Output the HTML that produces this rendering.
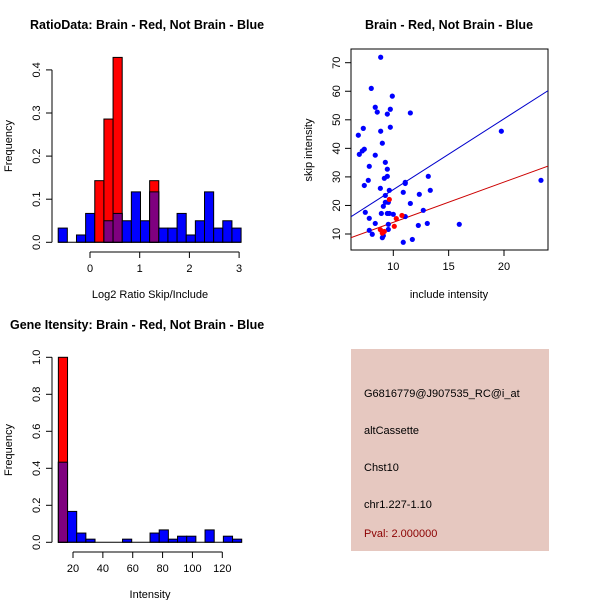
<!DOCTYPE html>
<html><head><meta charset="utf-8"><style>
body{margin:0;background:#fff}
svg{display:block}
text{font-family:"Liberation Sans",sans-serif;font-size:11px;fill:#000}
.t{font-weight:bold;font-size:12.5px}
</style></head><body>
<svg id="c" width="600" height="600" xmlns="http://www.w3.org/2000/svg"></svg>
<script>
// Panel 1: ratio histogram
const ratioBinStart = -0.64, ratioBinWidth = 0.184;
const ratioBlue = [0.033,0,0.017,0.067,0,0.05,0.067,0.05,0.117,0.05,0.117,0.033,0.033,0.067,0.017,0.05,0.117,0.033,0.05,0.033];
const ratioRed  = [0,0,0,0,0.143,0.286,0.429,0,0,0,0.143,0,0,0,0,0,0,0,0,0];
const ratioXTicks = [0,1,2,3];
const ratioYTicks = [0,0.1,0.2,0.3,0.4];
// Panel 2: scatter
const blueX = [8.86,8.01,9.91,8.37,9.73,8.55,9.46,11.54,9.73,7.29,8.86,19.76,6.84,9.01,7.38,7.20,6.93,8.37,7.83,9.28,9.46,9.46,9.19,13.16,7.74,23.34,7.38,11.08,11.08,8.83,9.64,13.34,10.90,9.28,12.35,9.10,11.54,9.28,9.55,7.47,8.92,9.46,10.00,9.64,12.71,11.08,7.83,8.37,9.55,12.26,13.07,15.96,9.55,7.83,8.10,9.10,9.01,10.90,11.72];
const blueY = [71.9,61.0,58.3,54.4,53.7,52.7,52.0,52.4,47.4,47.0,46.0,46.0,44.6,41.8,39.7,39.1,37.9,37.6,33.7,35.1,32.7,30.2,29.5,30.2,28.8,28.8,27.0,28.1,27.7,26.0,25.3,25.3,24.6,23.5,23.9,19.7,20.7,21.1,21.1,17.6,17.2,17.2,16.9,17.2,18.3,16.1,15.5,13.7,13.4,13.0,13.7,13.4,11.6,11.3,9.9,9.4,8.7,7.1,8.1];
const redX = [9.64,10.78,10.27,10.09,8.83,9.19,9.01];
const redY = [22.1,16.5,15.4,12.7,11.5,10.9,10.3];
const blueFit = [0.74, 2.48]; // intercept, slope
const redFit = [-0.01, 1.41];
const scXTicks = [10,15,20];
const scYTicks = [10,20,30,40,50,60,70];
// Panel 3: intensity histogram
const intBinStart = 10.2, intBinWidth = 6.14;
const intBlue = [0.433,0.167,0.05,0.017,0,0,0,0.017,0,0,0.05,0.067,0.017,0.033,0.033,0,0.067,0,0.033,0.017];
const intRed  = [1.0,0,0,0,0,0,0,0,0,0,0,0,0,0,0,0,0,0,0,0];
const intXTicks = [20,40,60,80,100,120];
const intYTicks = [0,0.2,0.4,0.6,0.8,1.0];

const svg = document.getElementById('c');
const NS = 'http://www.w3.org/2000/svg';
function mk(tag, attrs, parent){const e=document.createElementNS(NS,tag);for(const k in attrs)e.setAttribute(k,attrs[k]);(parent||svg).appendChild(e);return e;}
function txt(s,x,y,opt,parent){const e=mk('text',Object.assign({x:x,y:y},opt||{}),parent);e.textContent=s;return e;}

function hist(g, sx, sy, start, w, blue, red){
  for(let i=0;i<blue.length;i++){
    const x0=sx(start+i*w), x1=sx(start+(i+1)*w);
    const b=blue[i], r=red[i];
    if(b>0){const e=mk('rect',{x:x0,y:sy(b),width:x1-x0,height:sy(0)-sy(b),fill:'#0000ff',stroke:'#000','stroke-width':1},g);
      
      }
    if(r>0){const e=mk('rect',{x:x0,y:sy(r),width:x1-x0,height:sy(0)-sy(r),fill:'#ff0000',stroke:'#000','stroke-width':1},g);
      
      }
    const m=Math.min(b,r);
    if(m>0){const e=mk('rect',{x:x0,y:sy(m),width:x1-x0,height:sy(0)-sy(m),fill:'#7f007f',stroke:'#000','stroke-width':1},g);
      
      }
  }
}
function yAxis(g, sy, ticks, x, y0, y1, labX, fmt){
  mk('line',{x1:x,y1:y0,x2:x,y2:y1,stroke:'#000'},g);
  ticks.forEach(t=>{const y=sy(t);mk('line',{x1:x-6,y1:y,x2:x,y2:y,stroke:'#000'},g);
    txt(fmt(t),labX,y,{'text-anchor':'middle',transform:`rotate(-90 ${labX} ${y})`},g);});
}
function xAxis(g, sx, ticks, y, x0, x1, labY){
  mk('line',{x1:x0,y1:y,x2:x1,y2:y,stroke:'#000'},g);
  ticks.forEach(t=>{const x=sx(t);mk('line',{x1:x,y1:y,x2:x,y2:y+6,stroke:'#000'},g);
    txt(String(t),x,labY,{'text-anchor':'middle'},g);});
}

// Panel 1
{
  const g=mk('g',{});
  
  
  const sx=v=>90+v*49.7, sy=v=>242.3-v*431;
  hist(g,sx,sy,ratioBinStart,ratioBinWidth,ratioBlue,ratioRed);
  mk('line',{x1:sx(ratioBinStart),y1:242.3,x2:sx(ratioBinStart+20*ratioBinWidth),y2:242.3,stroke:'#000'},g);
  yAxis(g,sy,ratioYTicks,52,sy(0),sy(0.4),40,t=>t.toFixed(1));
  xAxis(g,sx,ratioXTicks,252,sx(0),sx(3),272);
  txt('RatioData: Brain - Red, Not Brain - Blue',30,29,{class:'t'},g);
  txt('Log2 Ratio Skip/Include',150,298,{'text-anchor':'middle'},g);
  txt('Frequency',12,146,{'text-anchor':'middle',transform:'rotate(-90 12 146)'},g);
}
// Panel 2
{
  const g=mk('g',{});
  
  
  const sx=v=>393.3+(v-10)*11.07, sy=v=>234-(v-10)*2.855;
  const xmin=6.18,xmax=23.98;
  mk('rect',{x:351,y:49,width:197,height:201,fill:'none',stroke:'#000'},g);
  const clip=mk('clipPath',{id:'cp'},g);mk('rect',{x:351,y:49,width:197,height:201},clip);
  const lg=mk('g',{'clip-path':'url(#cp)'},g);
  [[blueFit,'#0000cc','blue-fit-line'],[redFit,'#cc0000','red-fit-line']].forEach(([f,c,n])=>{
    const e=mk('line',{x1:sx(xmin),y1:sy(f[0]+f[1]*xmin),x2:sx(xmax),y2:sy(f[0]+f[1]*xmax),stroke:c},lg);
    
    
  });
  blueX.forEach((x,i)=>{const e=mk('circle',{cx:sx(x),cy:sy(blueY[i]),r:2.6,fill:'#0000ff'},lg);
    
    });
  redX.forEach((x,i)=>{const e=mk('circle',{cx:sx(x),cy:sy(redY[i]),r:2.6,fill:'#ff0000'},lg);
    
    });
  scXTicks.forEach(t=>{const x=sx(t);mk('line',{x1:x,y1:250,x2:x,y2:256,stroke:'#000'},g);txt(String(t),x,270,{'text-anchor':'middle'},g);});
  scYTicks.forEach(t=>{const y=sy(t);mk('line',{x1:345,y1:y,x2:351,y2:y,stroke:'#000'},g);txt(String(t),340,y,{'text-anchor':'middle',transform:`rotate(-90 340 ${y})`},g);});
  txt('Brain - Red, Not Brain - Blue',449,29,{class:'t','text-anchor':'middle'},g);
  txt('include intensity',449,298,{'text-anchor':'middle'},g);
  txt('skip intensity',312,150,{'text-anchor':'middle',transform:'rotate(-90 312 150)'},g);
}
// Panel 3
{
  const g=mk('g',{});
  
  
  const sx=v=>73+(v-20)*1.493, sy=v=>542.3-v*185;
  hist(g,sx,sy,intBinStart,intBinWidth,intBlue,intRed);
  mk('line',{x1:sx(intBinStart),y1:542.3,x2:sx(intBinStart+20*intBinWidth),y2:542.3,stroke:'#000'},g);
  yAxis(g,sy,intYTicks,52,sy(0),sy(1),40,t=>t.toFixed(1));
  xAxis(g,sx,intXTicks,552,sx(20),sx(120),572);
  txt('Gene Itensity: Brain - Red, Not Brain - Blue',10,329,{class:'t'},g);
  txt('Intensity',150,598,{'text-anchor':'middle'},g);
  txt('Frequency',12,450,{'text-anchor':'middle',transform:'rotate(-90 12 450)'},g);
}
// Panel 4
{
  const g=mk('g',{});
  
  
  mk('rect',{x:351,y:349,width:198,height:202,fill:'#e6c8c0'},g);
  txt('G6816779@J907535_RC@i_at',364,397,{},g);
  txt('altCassette',364,434,{},g);
  txt('Chst10',364,471,{},g);
  txt('chr1.227-1.10',364,508,{},g);
  txt('Pval: 2.000000',364,537,{fill:'#8b0000',style:'fill:#8b0000'},g);
}
</script>
</body></html>
